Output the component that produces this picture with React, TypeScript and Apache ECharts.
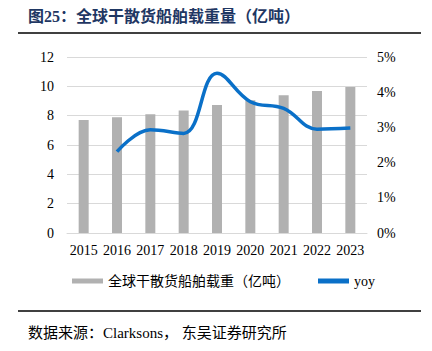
import React, { useEffect, useRef } from "react";
import * as echarts from "echarts";

const years = ["2015", "2016", "2017", "2018", "2019", "2020", "2021", "2022", "2023"];
const tonnage = [7.7, 7.9, 8.1, 8.36, 8.73, 9.05, 9.39, 9.68, 9.95];
const yoy = [null, 2.31, 2.93, 2.83, 4.54, 3.73, 3.54, 2.95, 2.98];
const leftTicks = [0, 2, 4, 6, 8, 10, 12];
const rightTicks = [0, 1, 2, 3, 4, 5];

const serif = "Liberation Serif, Noto Sans CJK SC, serif";

export default function App() {
  const ref = useRef<HTMLDivElement>(null);
  useEffect(() => {
    const chart = echarts.init(ref.current!, null, { renderer: "svg" });
    chart.setOption({
      animation: false,
      backgroundColor: "#fff",
      textStyle: { fontFamily: serif },
      graphic: [
        {
          type: "text",
          left: 28,
          top: 8,
          style: {
            text: "图25：全球干散货船舶载重量（亿吨）",
            fill: "#1F3763",
            fontFamily: serif,
            fontSize: 16,
            fontWeight: "bold",
          },
        },
        { type: "line", shape: { x1: 18, y1: 33, x2: 421, y2: 33 }, style: { stroke: "#000", lineWidth: 1.5 } },
        { type: "line", shape: { x1: 18, y1: 311, x2: 421, y2: 311 }, style: { stroke: "#000", lineWidth: 1.5 } },
        {
          type: "text",
          left: 28,
          top: 325,
          style: {
            text: "数据来源：Clarksons， 东吴证券研究所",
            fill: "#000",
            fontFamily: serif,
            fontSize: 15,
          },
        },
      ],
      legend: {
        top: 269,
        left: 67,
        itemGap: 28,
        itemWidth: 31,
        itemHeight: 5,
        textStyle: { fontFamily: serif, fontSize: 14, color: "#000" },
        data: [
          { name: "全球干散货船舶载重（亿吨）", icon: "rect" },
          { name: "yoy", icon: "rect", itemStyle: { color: "#0A70C8" } },
        ],
      },
      grid: { left: 67, right: 65, top: 57, bottom: 118 },
      xAxis: {
        type: "category",
        data: years,
        axisLine: { lineStyle: { color: "#D9D9D9" } },
        axisTick: { show: false },
        axisLabel: { color: "#000", fontSize: 14, fontFamily: serif, margin: 10, interval: 0 },
      },
      yAxis: [
        {
          type: "value",
          min: 0,
          max: 12,
          interval: 2,
          axisLine: { show: false },
          axisTick: { show: false },
          splitLine: { lineStyle: { color: "#D9D9D9", width: 1 } },
          axisLabel: { color: "#000", fontSize: 14, fontFamily: serif, margin: 13 },
        },
        {
          type: "value",
          min: 0,
          max: 5,
          interval: 1,
          axisLine: { show: false },
          axisTick: { show: false },
          splitLine: { show: false },
          axisLabel: { color: "#000", fontSize: 14, fontFamily: serif, margin: 10, formatter: "{value}%" },
        },
      ],
      series: [
        {
          name: "全球干散货船舶载重（亿吨）",
          type: "bar",
          data: tonnage,
          barWidth: 10,
          itemStyle: { color: "#B1B1B1" },
        },
        {
          name: "yoy",
          type: "line",
          yAxisIndex: 1,
          data: yoy,
          smooth: 0.4,
          showSymbol: false,
          symbol: "none",
          lineStyle: { color: "#0A70C8", width: 3.5 },
          itemStyle: { color: "#0A70C8" },
        },
      ],
    });
    return () => chart.dispose();
  }, []);
  return <div ref={ref} style={{ position: "absolute", left: 0, top: 0, width: 432, height: 351 }} />;
}
